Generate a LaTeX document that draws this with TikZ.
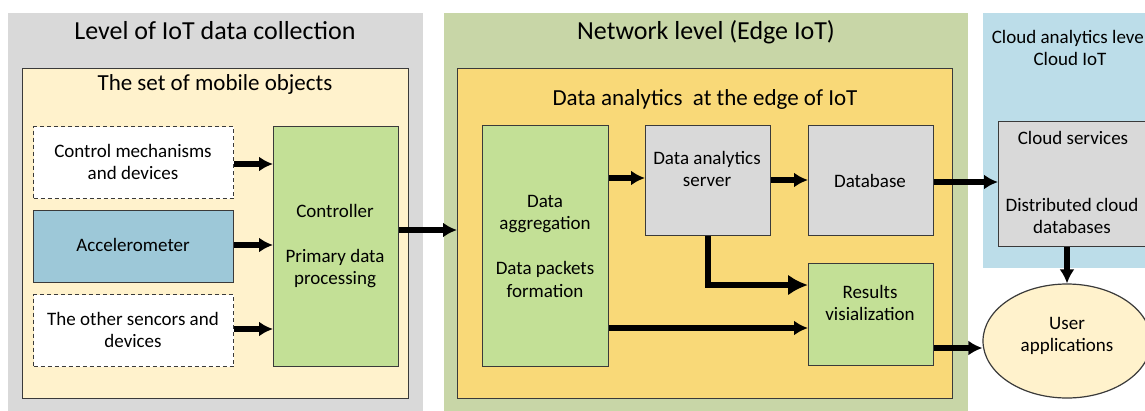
\documentclass[tikz,border=0pt]{standalone}
\usepackage{fontspec}
\setmainfont{Carlito}
\usetikzlibrary{arrows.meta,shapes.geometric}
\definecolor{panelgray}{HTML}{D9D9D9}
\definecolor{panelgreen}{HTML}{C8D6A7}
\definecolor{panelblue}{HTML}{BCDDE9}
\definecolor{beige}{HTML}{FFF2CC}
\definecolor{edgeyellow}{HTML}{F9D978}
\definecolor{accblue}{HTML}{9DC8D8}
\definecolor{boxgreen}{HTML}{C3E096}
\definecolor{boxgray}{HTML}{D9D9D9}
\definecolor{boxline}{HTML}{3A3A3A}
\begin{document}
\begin{tikzpicture}[x=1pt,y=-1pt,
  panel/.style={draw=none, inner sep=0pt, anchor=north west},
  box/.style={draw=boxline, line width=1.2pt, inner sep=0pt, anchor=north west},
  dbox/.style={box, dash pattern=on 4pt off 3pt, fill=white},
  txt/.style={align=center, font=\fontsize{19}{22.5}\selectfont, inner sep=0pt, text=black},
  ttl/.style={align=center, font=\fontsize{26}{31}\selectfont, inner sep=0pt, text=black},
  sttl/.style={align=center, font=\fontsize{23}{27}\selectfont, inner sep=0pt, text=black},
  arr/.style={line width=5.5pt, -{Latex[length=14pt,width=15pt]}},
  bigarr/.style={line width=5.5pt, -{Latex[length=20pt,width=21pt]}}]
\useasboundingbox (0,0) rectangle (1145,410);
\fill[white] (0,0) rectangle (1145,410);
% panels
\node[panel, fill=panelgray, minimum width=415pt, minimum height=400pt] (collect) at (8,13) {};
\node[panel, fill=panelgreen, minimum width=524pt, minimum height=400pt] (network) at (444,13) {};
\node[panel, fill=panelblue, minimum width=175pt, minimum height=255pt] (cloud) at (983,13) {};
\node[box, fill=beige, minimum width=386pt, minimum height=330pt] (mobile) at (22,68) {};
\node[box, fill=edgeyellow, minimum width=495pt, minimum height=330pt] (edgebox) at (457,68) {};
% titles
\node[ttl] (tcollect) at (215,31) {Level of IoT data collection};
\node[sttl] (tmobile) at (215,84) {The set of mobile objects};
\node[ttl] (tnetwork) at (706,32) {Network level (Edge IoT)};
\node[sttl] (tedge) at (705,99) {Data analytics\ \ at the edge of IoT};
\node[txt, anchor=north] (tcloud) at (1070,30) {Cloud analytics level\\Cloud IoT};
% left boxes
\node[dbox, minimum width=200pt, minimum height=72pt] (ctrl) at (33,126) {};
\node[txt] (tctrl) at (133,162) {Control mechanisms\\and devices};
\node[box, fill=accblue, minimum width=200pt, minimum height=72pt] (acc) at (33,210) {};
\node[txt] (tacc) at (133,245) {Accelerometer};
\node[dbox, minimum width=200pt, minimum height=72pt] (other) at (33,294) {};
\node[txt] (tother) at (133,330) {The other sencors and\\devices};
\node[box, fill=boxgreen, minimum width=125pt, minimum height=240pt] (controller) at (273,126) {};
\node[txt] (tcontroller) at (335,246) {Controller\\[22.5pt]Primary data\\processing};
% edge boxes
\node[box, fill=boxgreen, minimum width=126pt, minimum height=241pt] (agg) at (482,125) {};
\node[txt] (tagg) at (545,246) {Data\\aggregation\\[22.5pt]Data packets\\formation};
\node[box, fill=boxgray, minimum width=125pt, minimum height=110pt] (server) at (645,125) {};
\node[txt] (tserver) at (707,169) {Data analytics\\server};
\node[box, fill=boxgray, minimum width=125pt, minimum height=110pt] (db) at (808,125) {};
\node[txt] (tdb) at (870,181) {Database};
\node[box, fill=boxgreen, minimum width=125pt, minimum height=102pt] (results) at (808,263) {};
\node[txt] (tresults) at (870,303) {Results\\visialization};
% cloud
\node[box, fill=boxgray, minimum width=150pt, minimum height=125pt] (cloudsvc) at (998,121) {};
\node[txt] (tsvc) at (1073,138) {Cloud services};
\node[txt] (tdist) at (1072,216) {Distributed cloud\\databases};
\node[ellipse, draw=boxline, line width=1.2pt, fill=beige, minimum width=168pt, minimum height=114pt, inner sep=0pt] (user) at (1067,341) {};
\node[txt] (tuser) at (1067,336) {User\\applications};
% arrows
\draw[arr] (ctrl.east |- 0,164) -- (controller.west |- 0,164);
\draw[arr] (acc.east |- 0,245) -- (controller.west |- 0,245);
\draw[arr] (other.east |- 0,329) -- (controller.west |- 0,329);
\draw[arr] (controller.east |- 0,230) -- (edgebox.west |- 0,230);
\draw[arr] (agg.east |- 0,178) -- (server.west |- 0,178);
\draw[arr] (server.east |- 0,180) -- (db.west |- 0,180);
\draw[arr] (db.east |- 0,182) -- (cloudsvc.west |- 0,182);
\draw[bigarr] (server.south) |- (results.west |- 0,285);
\draw[arr] (agg.east |- 0,328) -- (results.west |- 0,328);
\draw[arr] (results.east |- 0,348) -- (user.west |- 0,348);
\draw[arr] (cloudsvc.south -| user.north) -- (user.north);
\end{tikzpicture}
\end{document}
